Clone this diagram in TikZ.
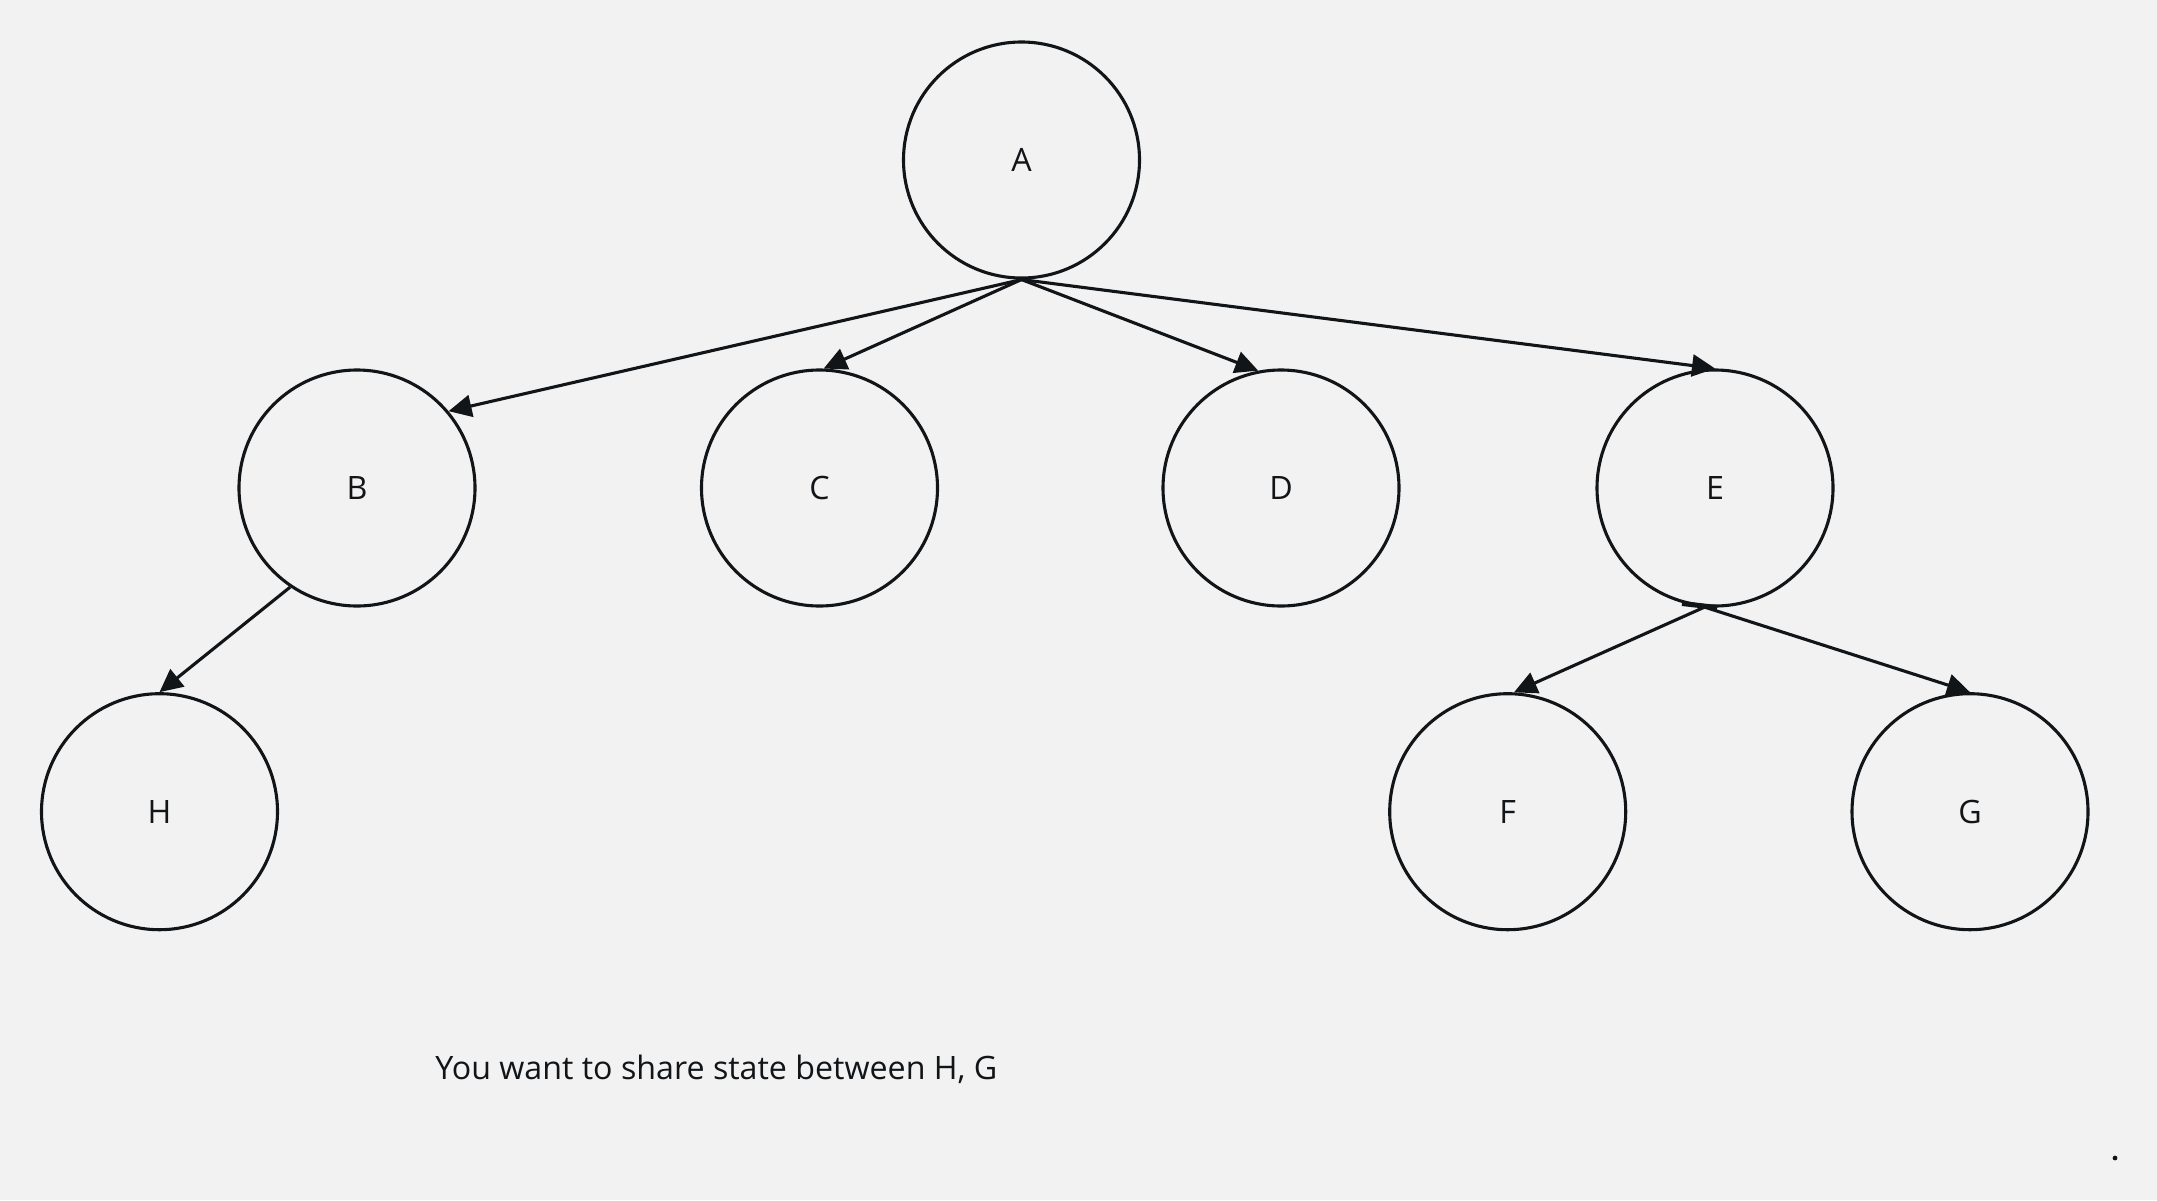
\documentclass[tikz,border=0pt]{standalone}
\usepackage{fontspec}
\setmainfont{Open Sans}
\usetikzlibrary{arrows.meta}
\definecolor{bgc}{RGB}{242,242,242}
\definecolor{ink}{RGB}{18,21,24}
\tikzset{
  treenode/.style={circle, draw=ink, line width=1.55pt, minimum size=118pt, inner sep=0pt, text=ink, font=\fontsize{16.1}{19}\selectfont},
  edge/.style={draw=ink, line width=1.55pt, -{Triangle[length=11.5pt, width=11pt]}},
  note/.style={anchor=base west, inner sep=0pt, text=ink, font=\fontsize{16.1}{19}\selectfont}
}
\begin{document}
\begin{tikzpicture}[x=0.5pt, y=-0.5pt]
\fill[bgc] (0,0) rectangle (2157,1200);
\useasboundingbox (0,0) rectangle (2157,1200);
\node[treenode] (A) at (1021.5,160) {A};
\node[treenode] (B) at (357,488) {B};
\node[treenode] (C) at (819.5,488) {C};
\node[treenode] (D) at (1281,488) {D};
\node[treenode] (E) at (1715,488) {E};
\node[treenode] (H) at (159.5,811.7) {H};
\node[treenode] (F) at (1507.7,811.7) {F};
\node[treenode] (G) at (1970,811.7) {G};
\draw[edge] (A.south) -- (B.40.6);
\draw[edge] (A.south) -- (C.88);
\draw[edge] (A.south) -- (D.101);
\draw[edge] (A.south) -- (E.90);
\draw[edge] (B.236) -- (H.90);
\draw[edge] (E.265) -- (F.87);
\draw[edge] (E.265) -- (G.90);
\draw[ink, line width=2.5pt] (1682,603.5) -- (1717,607.5);
\node[note] (T) at (435,1079) {You want to share state between H, G};
\fill[ink] (2115,1158) circle (1.2pt);
\end{tikzpicture}
\end{document}
